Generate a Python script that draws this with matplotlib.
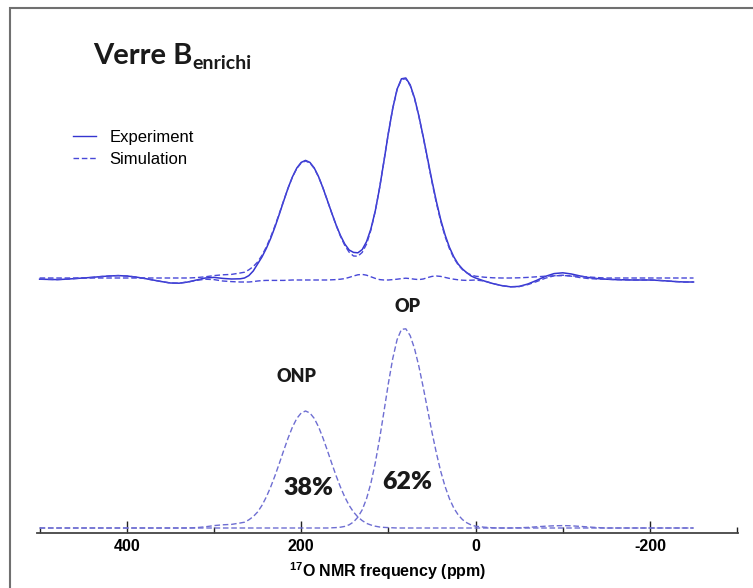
import matplotlib
matplotlib.use('Agg')
import matplotlib.pyplot as plt
from matplotlib.lines import Line2D
from matplotlib.patches import Rectangle
from matplotlib.ticker import MultipleLocator

# chemical shift grid (ppm), coarser away from the peaks
ppm = [500, 490, 480, 470, 460, 450, 440, 430, 420, 410, 400, 390,
       380, 370, 360, 350, 340, 330, 320, 310, 300, 290, 280, 270,
       265, 260, 255, 250, 245, 240, 235, 230, 225, 220, 215, 210,
       205, 200, 195, 190, 185, 180, 175, 170, 165, 160, 155, 150,
       145, 140, 135, 130, 125, 120, 115, 110, 105, 100, 95, 90,
       85, 80, 75, 70, 65, 60, 55, 50, 45, 40, 35, 30,
       25, 20, 15, 10, 5, 0,
       -10, -20, -30, -40, -50, -60, -70, -80, -90, -100, -110, -120,
       -130, -140, -150, -160, -170, -180, -190, -200, -210, -220, -230, -240,
       -250]

# upper trace: experiment
experiment = [-0.6, -0.7, -0.8, -0.6, -0.3, 0.0, 0.3, 0.7, 1.0, 1.2, 1.0, 0.5,
              -0.2, -1.0, -1.8, -2.5, -2.6, -2.0, -1.0, 0.0, 0.3, -0.2, -0.5, -0.4,
              0.0, 1.2, 3.5, 7.0, 10.5, 14.8, 19.8, 25.6, 32.0, 38.6, 45.0, 50.6,
              55.0, 57.8, 58.8, 57.8, 55.0, 50.6, 45.0, 38.8, 32.6, 26.6, 21.3, 17.0,
              14.0, 12.8, 12.6, 14.2, 18.2, 24.6, 33.6, 45.2, 58.6, 72.4, 84.8, 94.4,
              99.6, 100.0, 96.6, 90.0, 81.0, 70.6, 59.6, 48.6, 38.4, 29.2, 21.6, 15.4,
              10.6, 7.0, 4.5, 2.6, 1.0, 0.0,
              -1.5, -2.8, -3.8, -4.4, -4.2, -3.0, -1.2, 0.8, 2.2, 2.6, 2.0, 1.0,
              0.2, -0.3, -0.6, -0.8, -0.9, -1.0, -1.0, -1.0, -1.2, -1.5, -1.8, -2.0,
              -2.0]

# upper trace: simulation
simulation = [0, 0, 0, 0, 0, 0, 0, 0, 0, 0, 0, 0,
              0, 0, 0, 0, 0, 0, 0.2, 0.6, 1.2, 1.6, 1.8, 2.5,
              2.9, 4.1, 5.7, 8.0, 11.3, 15.5, 20.5, 26.2, 32.4, 38.8, 45.0, 50.5,
              54.8, 57.5, 58.5, 57.5, 54.8, 50.5, 45.0, 38.8, 32.5, 26.4, 20.9, 16.3,
              12.9, 11.0, 10.9, 12.8, 17.0, 24.0, 33.5, 45.3, 58.7, 72.5, 84.8, 94.2,
              99.3, 99.6, 96.2, 89.7, 80.8, 70.3, 59.1, 47.9, 37.6, 28.4, 20.8, 14.7,
              10.0, 6.6, 4.2, 2.6, 1.5, 0.9,
              0.4, 0.1, 0, 0, 0.1, 0.3, 0.6, 0.9, 1.1, 1.2, 1.1, 0.8,
              0.5, 0.2, 0, 0, 0, 0, 0, 0, 0, 0, 0, 0,
              0]

# upper trace: difference line
difference = [-0.6, -0.7, -0.8, -0.6, -0.3, 0.0, 0.3, 0.7, 1.0, 1.2, 1.0, 0.5,
              -0.2, -1.0, -1.8, -2.5, -2.6, -2.0, -1.2, -0.6, -0.8, -1.5, -1.8, -2.0,
              -2.0, -2.0, -1.8, -1.5, -1.3, -1.2, -1.2, -1.2, -1.2, -1.2, -1.1, -1.0,
              -1.0, -1.0, -1.0, -1.0, -1.0, -1.0, -1.0, -1.0, -0.9, -0.8, -0.6, -0.3,
              0.3, 1.0, 1.6, 1.8, 1.4, 0.6, -0.2, -0.8, -1.0, -1.0, -0.8, -0.6,
              -0.3, -0.1, -0.3, -0.6, -0.8, -0.5, 0.2, 0.8, 1.0, 0.8, 0.3, -0.2,
              -0.6, -0.9, -1.1, -1.2, -1.1, -1.0,
              -1.5, -2.8, -3.8, -4.4, -4.3, -3.3, -1.8, -0.1, 1.1, 1.4, 0.9, 0.2,
              -0.3, -0.5, -0.6, -0.8, -0.9, -1.0, -1.0, -1.0, -1.2, -1.5, -1.8, -2.0,
              -2.0]

# lower traces: the two components
onp = [0, 0, 0, 0, 0, 0, 0, 0, 0, 0, 0, 0,
       0, 0, 0, 0, 0, 0, 0.2, 0.6, 1.2, 1.6, 1.8, 2.5,
       2.9, 4.1, 5.7, 8.0, 11.3, 15.5, 20.5, 26.2, 32.4, 38.8, 45.0, 50.5,
       54.8, 57.5, 58.5, 57.5, 54.8, 50.5, 45.0, 38.8, 32.4, 26.2, 20.5, 15.5,
       11.3, 8.0, 5.5, 3.7, 2.3, 1.5, 0.9, 0.5, 0.3, 0.2, 0.1, 0,
       0, 0, 0, 0, 0, 0, 0, 0, 0, 0, 0, 0,
       0, 0, 0, 0, 0, 0,
       0, 0, 0, 0, 0, 0, 0, 0, 0, 0, 0, 0,
       0, 0, 0, 0, 0, 0, 0, 0, 0, 0, 0, 0,
       0]

op = [0, 0, 0, 0, 0, 0, 0, 0, 0, 0, 0, 0,
      0, 0, 0, 0, 0, 0, 0, 0, 0, 0, 0, 0,
      0, 0, 0, 0, 0, 0, 0, 0, 0, 0, 0, 0,
      0, 0, 0, 0, 0, 0, 0, 0, 0.1, 0.2, 0.4, 0.8,
      1.6, 3.0, 5.4, 9.1, 14.7, 22.5, 32.6, 44.8, 58.4, 72.3, 84.7, 94.2,
      99.3, 99.6, 96.2, 89.7, 80.8, 70.3, 59.1, 47.9, 37.6, 28.4, 20.8, 14.7,
      10.0, 6.6, 4.2, 2.6, 1.5, 0.9,
      0.4, 0.1, 0, 0, 0.1, 0.3, 0.6, 0.9, 1.1, 1.2, 1.1, 0.8,
      0.5, 0.2, 0, 0, 0, 0, 0, 0, 0, 0, 0, 0,
      0]

for s in (experiment, simulation, difference, onp, op):
    assert len(s) == len(ppm)

upper_offset = 125.0
x_ticks = [400, 200, 0, -200]

W, H = 753, 588
plt.rcParams['lines.scale_dashes'] = False
plt.rcParams['axes.unicode_minus'] = False
plt.rcParams['mathtext.fontset'] = 'custom'
plt.rcParams['mathtext.rm'] = 'Liberation Sans'
plt.rcParams['mathtext.bf'] = 'Liberation Sans:bold'

fig = plt.figure(figsize=(W / 100, H / 100), dpi=100)
ax = fig.add_axes([37 / W, 55 / H, 701 / W, 525 / H])

c_exp = '#3535d0'
c_sim = '#4848d8'
c_comp = '#6e6ed2'
dash = (4, 2)

ax.plot(ppm, [v + upper_offset for v in experiment], color=c_exp, lw=1.1)
ax.plot(ppm, [v + upper_offset for v in simulation], color=c_sim, lw=1.0, dashes=dash)
ax.plot(ppm, [v + upper_offset for v in difference], color=c_sim, lw=1.0, dashes=dash)
ax.plot(ppm, onp, color=c_comp, lw=1.0, dashes=dash)
ax.plot(ppm, op, color=c_comp, lw=1.0, dashes=dash)

ax.set_xlim(503, -301)
ax.set_ylim(-2.5, 260)

for side in ('left', 'right', 'top'):
    ax.spines[side].set_visible(False)
ax.spines['bottom'].set_color('#444444')
ax.spines['bottom'].set_linewidth(1.3)
ax.set_yticks([])
ax.set_xticks(x_ticks)
ax.xaxis.set_minor_locator(MultipleLocator(100))
ax.tick_params(axis='x', which='major', direction='in', length=9, width=1.0,
               color='#222222', pad=4)
ax.tick_params(axis='x', which='minor', direction='in', length=4, width=1.0,
               color='#222222')
for lab in ax.get_xticklabels():
    lab.set_fontfamily('Liberation Sans')
    lab.set_fontweight('bold')
    lab.set_fontsize(11.5)
ax.set_xlabel(r'$\mathbf{^{17}}$O NMR frequency (ppm)', fontfamily='Liberation Sans',
              fontweight='bold', fontsize=11.5, labelpad=5)

# peak labels
bold = dict(fontfamily='Lato', fontweight='heavy', color='#1a1a1a',
            ha='center', va='center')
ax.text(205, 75.5, 'ONP', fontsize=13, **bold)
ax.text(78, 111, 'OP', fontsize=13, **bold)
ax.text(192, 20, '38%', fontsize=18, **bold)
ax.text(78, 23, '62%', fontsize=18, **bold)

# legend
handles = [Line2D([], [], color=c_exp, lw=1.0),
           Line2D([], [], color=c_sim, lw=1.0, dashes=dash)]
fig.legend(handles, ['Experiment', 'Simulation'], loc='upper left',
           bbox_to_anchor=(73 / W, 1 - 130 / H), frameon=False,
           prop={'family': 'Liberation Sans', 'size': 12},
           handlelength=1.4, handletextpad=0.8, labelspacing=0.4,
           borderpad=0, borderaxespad=0)

# title with subscript
title = fig.text(93 / W, 1 - 64 / H, 'Verre B', fontfamily='Lato', fontweight='bold',
                 fontsize=21, color='#1a1a1a', va='baseline')
fig.canvas.draw()
bb = title.get_window_extent()
fig.text(bb.x1 / W, 1 - 69 / H, 'enrichi', fontfamily='Lato', fontweight='bold',
         fontsize=14, color='#1a1a1a', va='baseline')

# outer frame
fig.patches.append(Rectangle((10 / W, -0.1), 1.2, 0.1 + 1 - 8 / H, transform=fig.transFigure,
                             fill=False, edgecolor='#707070', lw=1.5))

fig.savefig('out.png', dpi=100)
